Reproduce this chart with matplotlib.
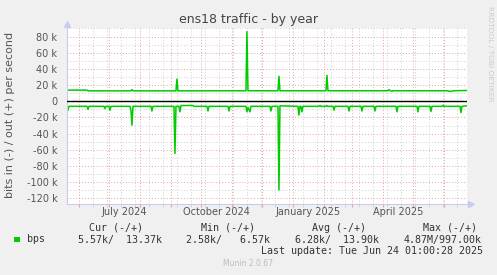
import matplotlib
matplotlib.use("Agg")
import matplotlib.pyplot as plt
import matplotlib.dates as mdates
from matplotlib.patches import Rectangle
from matplotlib.ticker import FuncFormatter
import pandas as pd

# daily values, in kbit/s
out_dates = ["2024-05-20", "2024-06-09", "2024-06-10",
             "2024-07-23", "2024-07-24", "2024-07-25",
             "2024-09-06", "2024-09-07", "2024-09-08",
             "2024-11-15", "2024-11-16", "2024-11-17",
             "2024-12-17", "2024-12-18", "2024-12-19",
             "2025-02-03", "2025-02-04", "2025-02-05",
             "2025-04-06", "2025-04-07", "2025-04-08", "2025-04-10", "2025-04-11",
             "2025-06-05", "2025-06-06", "2025-06-09", "2025-06-10",
             "2025-06-24"]
out_vals = [13.8, 13.8, 12.9,
            12.9, 14.5, 12.9,
            12.9, 27.5, 12.9,
            13.0, 86.0, 13.0,
            13.0, 30.8, 13.0,
            13.0, 32.0, 13.0,
            13.0, 14.5, 13.2, 12.3, 13.0,
            13.0, 12.3, 12.3, 13.0,
            13.37]

in_dates = ["2024-05-20", "2024-05-21", "2024-05-22",
            "2024-06-09", "2024-06-10", "2024-06-11",
            "2024-06-26", "2024-06-27", "2024-06-28",
            "2024-07-01", "2024-07-02", "2024-07-03",
            "2024-07-22", "2024-07-23", "2024-07-24", "2024-07-25",
            "2024-08-12", "2024-08-13", "2024-08-14",
            "2024-09-04", "2024-09-05", "2024-09-06",
            "2024-09-09", "2024-09-10", "2024-09-11", "2024-09-23", "2024-09-24",
            "2024-10-07", "2024-10-08", "2024-10-09",
            "2024-10-28", "2024-10-29", "2024-10-30",
            "2024-11-15", "2024-11-16", "2024-11-17", "2024-11-19", "2024-11-20",
            "2024-12-09", "2024-12-10", "2024-12-11",
            "2024-12-17", "2024-12-18", "2024-12-19",
            "2025-01-06", "2025-01-07", "2025-01-08", "2025-01-09", "2025-01-10", "2025-01-11",
            "2025-01-27", "2025-01-28", "2025-01-29",
            "2025-02-03", "2025-02-04", "2025-02-05",
            "2025-02-10", "2025-02-11", "2025-02-12",
            "2025-02-25", "2025-02-26", "2025-02-27",
            "2025-03-10", "2025-03-11", "2025-03-12",
            "2025-03-23", "2025-03-24", "2025-03-25",
            "2025-04-14", "2025-04-15", "2025-04-16",
            "2025-05-05", "2025-05-06", "2025-05-07",
            "2025-05-18", "2025-05-19", "2025-05-20",
            "2025-05-30", "2025-05-31", "2025-06-01",
            "2025-06-17", "2025-06-18", "2025-06-19",
            "2025-06-24"]
in_vals = [-6.5, -11.0, -6.2,
           -6.2, -10.0, -6.2,
           -6.2, -9.0, -6.2,
           -6.2, -11.0, -6.2,
           -6.2, -11.0, -29.5, -6.2,
           -6.2, -12.0, -6.2,
           -6.2, -64.4, -6.2,
           -6.2, -13.0, -5.2, -5.2, -6.2,
           -6.2, -12.0, -6.2,
           -6.2, -12.0, -6.2,
           -6.2, -13.0, -7.5, -13.0, -6.2,
           -6.2, -12.0, -6.2,
           -6.2, -109.5, -5.6,
           -6.2, -17.0, -6.2, -6.2, -13.0, -6.2,
           -6.2, -5.2, -6.2,
           -6.2, -5.2, -6.2,
           -6.2, -11.0, -6.2,
           -6.2, -12.0, -6.2,
           -6.2, -12.0, -6.2,
           -6.2, -12.0, -6.2,
           -6.2, -13.0, -6.2,
           -6.2, -13.0, -6.2,
           -6.2, -12.5, -6.2,
           -6.2, -5.0, -6.2,
           -6.2, -14.0, -6.2,
           -5.57]

month_labels = ["July 2024", "October 2024", "January 2025", "April 2025"]
month_label_dates = ["2024-07-16", "2024-10-16", "2025-01-16", "2025-04-16"]

legend_heads = ["Cur (-/+)", "Min (-/+)", "Avg (-/+)", "Max (-/+)"]
legend_vals = ["5.57k/  13.37k", "2.58k/   6.57k", "6.28k/  13.90k", "4.87M/997.00k"]

start = pd.Timestamp("2024-05-20 01:00")
end = pd.Timestamp("2025-06-24 01:00")

W, H = 497, 275
def fx(px):
    return px / W
def fy(py):
    return 1 - py / H

GREEN = "#00CC00"
MONO = "DejaVu Sans Mono"

fig = plt.figure(figsize=(W / 100, H / 100), dpi=100, facecolor="#F0F0F0")
ax = fig.add_axes([fx(67), fy(204), 400 / W, 176 / H])
ax.set_facecolor("white")

ax.plot(pd.to_datetime(out_dates), [v * 1000 for v in out_vals], color=GREEN, lw=1.1)
ax.plot(pd.to_datetime(in_dates), [v * 1000 for v in in_vals], color=GREEN, lw=1.1)
ax.axhline(0, color="black", lw=1.0, zorder=3)

ax.set_xlim(start, end)
ax.set_ylim(-126800, 90500)

# grid: red dotted major, grey dotted minor
ax.set_yticks(range(-120000, 80001, 20000))
ax.set_yticks(range(-110000, 90001, 20000), minor=True)
ax.set_xticks(pd.date_range("2024-06-01", "2025-06-01", freq="MS"))
ax.set_xticks(pd.date_range("2024-06-01", end, freq="14D"), minor=True)
ax.xaxis.set_major_formatter(FuncFormatter(lambda v, p: ""))
ax.yaxis.set_major_formatter(FuncFormatter(lambda v, p: "0" if v == 0 else f"{int(v / 1000)} k"))
ax.grid(which="major", color="#e8a0a0", lw=0.7, linestyle=(0, (1, 2)))
ax.grid(which="minor", color="#cfcfcf", lw=0.7, linestyle=(0, (1, 2)))
ax.set_axisbelow(True)

ax.tick_params(axis="y", which="both", length=0, pad=7, labelsize=7, labelcolor="#555555")
ax.tick_params(axis="x", which="major", length=2, color="#e8a0a0", labelsize=0)
ax.tick_params(axis="x", which="minor", length=2, color="#cfcfcf")

for s in ["top", "right"]:
    ax.spines[s].set_visible(False)
for s in ["left", "bottom"]:
    ax.spines[s].set_color("#c8cdf0")
    ax.spines[s].set_linewidth(0.8)
ax.plot([0], [1.02], marker="^", color="#c8cdf0", ms=4, transform=ax.transAxes, clip_on=False)
ax.plot([1.01], [0], marker=">", color="#c8cdf0", ms=4, transform=ax.transAxes, clip_on=False)

for lab, d in zip(month_labels, month_label_dates):
    ax.text(pd.Timestamp(d), -0.044, lab, transform=ax.get_xaxis_transform(),
            ha="center", va="center", fontsize=7, color="#555555")

fig.text(fx(248.5), fy(19.5), "ens18 traffic - by year", ha="center", va="center",
         fontsize=9, color="#444444")
fig.text(fx(10.5), fy(115), "bits in (-) / out (+) per second", rotation=90,
         ha="center", va="center", fontsize=8, color="#555555")
fig.text(fx(490), fy(53.5), "RRDTOOL / TOBI OETIKER", rotation=270,
         ha="center", va="center", fontsize=5.4, color="#cccccc")

# legend block
for head, x in zip(legend_heads, [89, 201, 311.7, 422.7]):
    fig.text(fx(x), fy(228), head, ha="left", va="center", family=MONO, fontsize=7.2, color="#333333")
fig.add_artist(Rectangle((fx(14), fy(242)), 5.5 / W, 5.5 / H, transform=fig.transFigure,
                         color=GREEN, lw=0))
fig.text(fx(26.7), fy(239.5), "bps", ha="left", va="center", family=MONO, fontsize=7.2, color="#333333")
for val, x in zip(legend_vals, [77.7, 186, 295, 403.3]):
    fig.text(fx(x), fy(239.5), val, ha="left", va="center", family=MONO, fontsize=7.2, color="#333333")
fig.text(fx(261), fy(251), "Last update: Tue Jun 24 01:00:28 2025", ha="left", va="center",
         family=MONO, fontsize=7.2, color="#333333")
fig.text(fx(248), fy(264), "Munin 2.0.67", ha="center", va="center", fontsize=5.5, color="#bbbbbb")

fig.savefig("out.png", dpi=100, facecolor=fig.get_facecolor())
